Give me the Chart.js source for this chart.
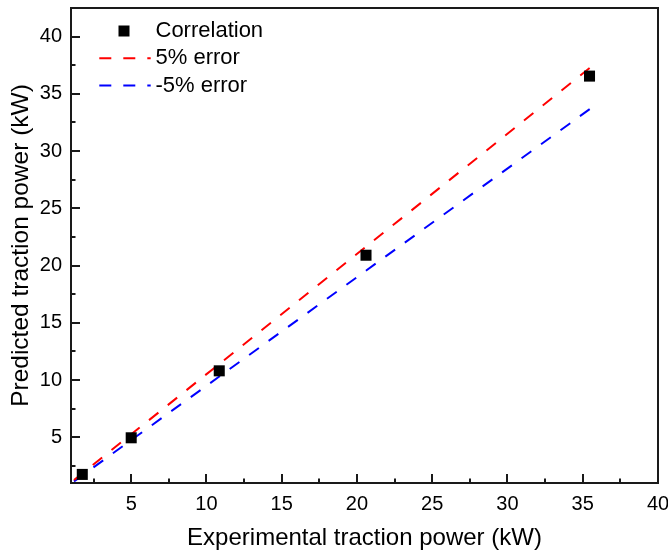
<!DOCTYPE html>
<html>
<head>
<meta charset="utf-8">
<title>Predicted vs experimental traction power</title>
<script src="https://cdn.jsdelivr.net/npm/chart.js@4.4.1/dist/chart.umd.min.js"></script>
<style>
  html, body { margin: 0; padding: 0; background: #fff; }
  .wrap { position: relative; width: 668px; height: 556px; }
</style>
</head>
<body>
<div class="wrap"><canvas id="powerChart"></canvas></div>
<script>
// measured points
const experimental = [1.75, 5.0, 10.85, 20.6, 35.45];
const predicted = [1.75, 4.95, 10.8, 20.9, 36.55];

// error band lines (end points)
const plusErrX = [1.2, 35.5];
const plusErrY = [1.26, 37.3];
const minusErrX = [1.2, 35.5];
const minusErrY = [1.14, 33.7];

const xTicks = [5, 10, 15, 20, 25, 30, 35, 40];
const yTicks = [5, 10, 15, 20, 25, 30, 35, 40];
const xMinor = [2.5, 7.5, 12.5, 17.5, 22.5, 27.5, 32.5, 37.5];
const yMinor = [2.5, 7.5, 12.5, 17.5, 22.5, 27.5, 32.5, 37.5];

const legendLabels = ['Correlation', '5% error', '-5% error'];

const FONT = "'Liberation Sans', Arial, sans-serif";
const AXIS = '#1a1a1a';

const toPoints = (xs, ys) => xs.map((x, i) => ({ x: x, y: ys[i] }));

// chart.js reserves room for edge labels, we want a fixed box instead
function fixBox(s) {
  s.paddingTop = 0;
  s.paddingBottom = 0;
  s.paddingLeft = 0;
  s.paddingRight = 0;
}

// frame + inward ticks, like the origin-style plot
const frameTicks = {
  id: 'frameTicks',
  afterDraw(chart) {
    const { ctx, chartArea: a, scales } = chart;
    const xs = scales.x, ys = scales.y;
    ctx.save();
    ctx.strokeStyle = AXIS;
    ctx.lineWidth = 2;
    ctx.strokeRect(a.left, a.top, a.right - a.left, a.bottom - a.top);
    ctx.beginPath();
    xTicks.forEach(v => {
      const px = Math.round(xs.getPixelForValue(v));
      ctx.moveTo(px, a.bottom); ctx.lineTo(px, a.bottom - 9);
    });
    xMinor.forEach(v => {
      const px = Math.round(xs.getPixelForValue(v));
      ctx.moveTo(px, a.bottom); ctx.lineTo(px, a.bottom - 4.5);
    });
    yTicks.forEach(v => {
      const py = Math.round(ys.getPixelForValue(v));
      ctx.moveTo(a.left, py); ctx.lineTo(a.left + 9, py);
    });
    yMinor.forEach(v => {
      const py = Math.round(ys.getPixelForValue(v));
      ctx.moveTo(a.left, py); ctx.lineTo(a.left + 4.5, py);
    });
    ctx.stroke();
    ctx.restore();
  }
};

// legend inside the top-left corner
const insideLegend = {
  id: 'insideLegend',
  afterDraw(chart) {
    const { ctx } = chart;
    const ds = chart.data.datasets;
    const rowY = [31, 58.3, 85.6];
    ctx.save();
    ctx.font = '22px ' + FONT;
    ctx.textBaseline = 'middle';
    legendLabels.forEach((label, i) => {
      const y = rowY[i];
      if (i === 0) {
        ctx.fillStyle = ds[0].backgroundColor;
        ctx.fillRect(118.5, y - 5.5, 11, 11);
      } else {
        ctx.strokeStyle = ds[i].borderColor;
        ctx.lineWidth = 2;
        ctx.setLineDash(ds[i].borderDash);
        ctx.beginPath();
        ctx.moveTo(99.3, y); ctx.lineTo(150.7, y);
        ctx.stroke();
        ctx.setLineDash([]);
      }
      ctx.fillStyle = '#000';
      ctx.fillText(label, 155.5, y);
    });
    ctx.restore();
  }
};

const ctx = document.getElementById('powerChart').getContext('2d');
const powerChart = new Chart(ctx, {
  type: 'scatter',
  data: {
    datasets: [
      {
        label: legendLabels[0],
        data: toPoints(experimental, predicted),
        pointStyle: 'rect',
        pointRadius: 7.8,
        pointBorderWidth: 0,
        backgroundColor: '#000',
        borderColor: '#000',
      },
      {
        label: legendLabels[1],
        data: toPoints(plusErrX, plusErrY),
        showLine: true,
        pointRadius: 0,
        borderColor: '#ff0000',
        borderWidth: 2,
        borderDash: [12, 12],
      },
      {
        label: legendLabels[2],
        data: toPoints(minusErrX, minusErrY),
        showLine: true,
        pointRadius: 0,
        borderColor: '#0000ff',
        borderWidth: 2,
        borderDash: [12, 12],
      }
    ]
  },
  options: {
    responsive: true,
    maintainAspectRatio: false,
    animation: false,
    layout: { padding: { top: 8, right: 10, left: 0, bottom: 0 } },
    plugins: {
      legend: { display: false },
      tooltip: { enabled: false },
    },
    scales: {
      x: {
        type: 'linear',
        min: 1,
        max: 40,
        afterBuildTicks: s => { s.ticks = xTicks.map(v => ({ value: v })); },
        afterFit: s => { s.height = 73; fixBox(s); },
        grid: { display: false, drawTicks: false },
        border: { display: false },
        ticks: { color: '#000', font: { family: FONT, size: 20 }, padding: 9, maxRotation: 0 },
        title: {
          display: true,
          text: 'Experimental traction power (kW)',
          color: '#000',
          font: { family: FONT, size: 24 },
          padding: { top: 0, bottom: 3 },
        },
      },
      y: {
        type: 'linear',
        min: 1,
        max: 42.5,
        afterBuildTicks: s => { s.ticks = yTicks.map(v => ({ value: v })); },
        afterFit: s => { s.width = 71; fixBox(s); },
        grid: { display: false, drawTicks: false },
        border: { display: false },
        ticks: { color: '#000', font: { family: FONT, size: 20 }, padding: 9 },
        title: {
          display: true,
          text: 'Predicted traction power (kW)',
          color: '#000',
          font: { family: FONT, size: 24.5 },
          padding: { top: 7, bottom: 0 },
        },
      }
    }
  },
  plugins: [frameTicks, insideLegend]
});
</script>
</body>
</html>
